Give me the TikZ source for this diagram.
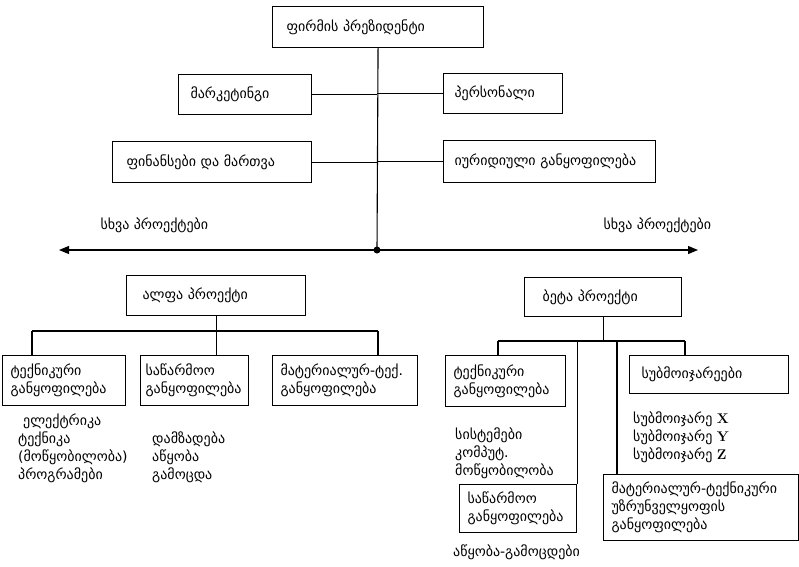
\documentclass[tikz,border=0pt]{standalone}
\usepackage{fontspec}
\newfontfamily\geofont{DejaVu Sans}
\usetikzlibrary{arrows.meta,positioning,calc}

\begin{document}
\begin{tikzpicture}[x=1pt,y=-1pt,
  every node/.style={font=\geofont\fontsize{14}{18}\selectfont},
  box/.style={draw,line width=1.1pt,anchor=north west,align=left,inner ysep=0pt},
  conn/.style={line width=1.1pt},
  lst/.style={anchor=north west,align=left,inner sep=0pt}]
  \useasboundingbox (0,0) rectangle (799,566);

  % ===== Top management =====
  \node[box,inner xsep=14pt,text width=183pt,minimum height=41pt] (pres) at (272,6) {ფირმის პრეზიდენტი};
  \node[box,inner xsep=12pt,text width=109pt,minimum height=40pt] (mark) at (178,74) {მარკეტინგი};
  \node[box,inner xsep=11pt,text width=97pt,minimum height=40pt] (pers) at (443,73) {პერსონალი};
  \node[box,inner xsep=14pt,text width=171pt,minimum height=41pt] (fin) at (112,141) {ფინანსები და მართვა};
  \node[box,inner xsep=11pt,text width=190pt,minimum height=42pt] (legal) at (443,140) {იურიდიული განყოფილება};

  % --- main axis ---
  \coordinate (hub) at (377,250);
  \coordinate (lft) at (59,250);
  \coordinate (rgt) at (698,250);
  \draw[conn] (pres.south) -- (hub);
  \draw[conn] (mark.east) -- (mark.east -| hub);
  \draw[conn] (fin.east) -- (fin.east -| hub);
  \draw[conn] (pers.west) -- (pers.west -| hub);
  \draw[conn] (legal.west) -- (legal.west -| hub);
  \draw[conn,{Triangle[length=10pt,width=8pt]}-{Triangle[length=10pt,width=8pt]}] (lft) -- (rgt);
  \fill (hub) circle (3.5pt);
  \node[anchor=west] (othl) at (97,225) {სხვა პროექტები};
  \node[anchor=west] (othr) at (600,225) {სხვა პროექტები};

  % ===== Alpha project =====
  \node[box,inner xsep=16pt,text width=147pt,minimum height=40pt] (alpha) at (126,275) {ალფა პროექტი};
  \node[box,inner xsep=8pt,text width=107pt,minimum height=50pt] (atech) at (2,355) {ტექნიკური\\განყოფილება};
  \node[box,inner xsep=5pt,text width=98pt,minimum height=50pt] (aprod) at (140,355) {საწარმოო\\განყოფილება};
  \node[box,inner xsep=8pt,text width=129pt,minimum height=50pt] (amat) at (272,355) {მატერიალურ-ტექ.\\განყოფილება};
  \coordinate (aL) at (32,331);
  \coordinate (aR) at (378,331);
  \draw[conn] (aL) -- (aR);
  \draw[conn] (alpha.south) -- (alpha.south |- aprod.north);
  \draw[conn] (aL) -- (aL |- atech.north);
  \draw[conn] (aR) -- (aR |- amat.north);
  \node[lst] (atechl) at (18,414) {\hspace{5pt}ელექტრიკა\\ტექნიკა\\(მოწყობილობა)\\პროგრამები};
  \node[lst] (aprodl) at (152,432) {დამზადება\\აწყობა\\გამოცდა};

  % ===== Beta project =====
  \node[box,inner xsep=18pt,text width=121pt,minimum height=39pt] (beta) at (524,277) {ბეტა პროექტი};
  \node[box,inner xsep=8pt,text width=104pt,minimum height=51pt] (btech) at (445,355) {ტექნიკური\\განყოფილება};
  \node[box,inner xsep=12pt,text width=135pt,minimum height=38pt] (bsub) at (629,355) {სუბმოიჯარეები};
  \node[box,inner xsep=8pt,text width=101pt,minimum height=48pt] (bprod) at (459,484) {საწარმოო\\განყოფილება};
  \node[box,inner xsep=8pt,text width=179pt,minimum height=66pt] (bmat) at (603,474) {მატერიალურ-ტექნიკური\\უზრუნველყოფის\\განყოფილება};
  \coordinate (bL) at (498,341);
  \coordinate (bM) at (617,341);
  \coordinate (bR) at (685,341);
  \draw[conn] (bL) -- (bR);
  \draw[conn] (beta.south) -- (beta.south |- bL);
  \draw[conn] (bL) -- (bL |- btech.north);
  \draw[conn] (bprod.north east) -- (bprod.north east |- bL);
  \draw[conn] (bM) -- (bM |- bmat.north);
  \draw[conn] (bR) -- (bR |- bsub.north);
  \node[lst] (btechl) at (455,428) {სისტემები\\კომპუტ.\\მოწყობილობა};
  \node[lst] (bsubl) at (633,412) {სუბმოიჯარე {\rmfamily\bfseries X}\\სუბმოიჯარე {\rmfamily\bfseries Y}\\სუბმოიჯარე {\rmfamily\bfseries Z}};
  \node[lst] (bprodl) at (453,545) {აწყობა-გამოცდები};
\end{tikzpicture}
\end{document}
